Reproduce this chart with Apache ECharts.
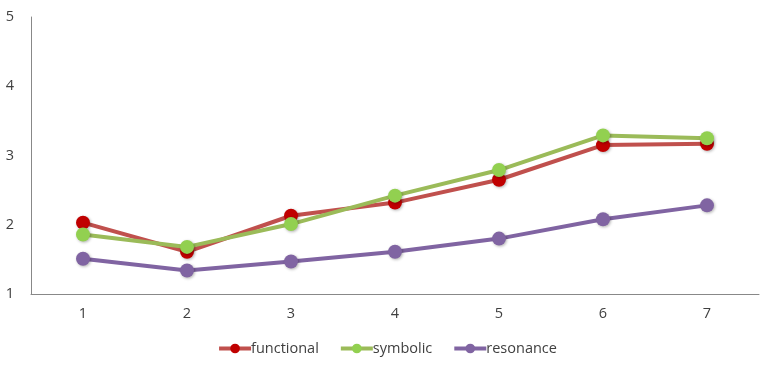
<!DOCTYPE html>
<html>
<head>
<meta charset="utf-8">
<script src="https://cdn.jsdelivr.net/npm/echarts@6/dist/echarts.min.js"></script>
<style>html,body{margin:0;padding:0;background:#fff}#c{width:774px;height:371px}</style>
</head>
<body>
<div id="c"></div>
<script>
const categories = ['1','2','3','4','5','6','7'];
const functional = [2.03, 1.61, 2.13, 2.32, 2.65, 3.15, 3.17];
const symbolic = [1.86, 1.68, 2.01, 2.42, 2.79, 3.29, 3.25];
const resonance = [1.51, 1.34, 1.47, 1.61, 1.80, 2.08, 2.28];
const yTicks = [1, 2, 3, 4, 5];

const chart = echarts.init(document.getElementById('c'));
const font = "'Open Sans', sans-serif";
function mk(name, data, lineColor, dotColor) {
  return {
    name, type: 'line', data,
    symbol: 'circle', symbolSize: 14,
    lineStyle: { color: lineColor, width: 4 },
    itemStyle: { color: dotColor, shadowColor: 'rgba(0,0,0,0.3)', shadowBlur: 3, shadowOffsetX: 1, shadowOffsetY: 1 },
    emphasis: { disabled: true }
  };
}
chart.setOption({
  animation: false,
  textStyle: { fontFamily: font },
  grid: { left: 31, right: 15, top: 17, bottom: 77 },
  legend: {
    bottom: 10, left: 'center',
    itemWidth: 32, itemHeight: 12, itemGap: 20,
    lineStyle: { width: 4 },
    textStyle: { fontFamily: font, fontSize: 14.5, color: '#404040', padding: [0,0,0,-5] },
    data: ['functional', 'symbolic', 'resonance']
  },
  xAxis: {
    type: 'category', data: categories, boundaryGap: true,
    axisLine: { lineStyle: { color: '#888', width: 1 } },
    axisTick: { show: false },
    axisLabel: { color: '#404040', fontSize: 14.5, fontFamily: font, margin: 12 }
  },
  yAxis: {
    type: 'value', min: yTicks[0], max: yTicks[yTicks.length-1], interval: 1,
    axisLine: { show: true, lineStyle: { color: '#888', width: 1 } },
    axisTick: { show: false },
    splitLine: { show: false },
    axisLabel: { color: '#404040', fontSize: 14.5, fontFamily: font, margin: 17, formatter: v => yTicks.includes(v) ? String(v) : '' }
  },
  series: [
    mk('functional', functional, '#C0504D', '#C00000'),
    mk('symbolic', symbolic, '#9BBB59', '#92D050'),
    mk('resonance', resonance, '#8064A2', '#8064A2')
  ]
});
</script>
</body>
</html>
